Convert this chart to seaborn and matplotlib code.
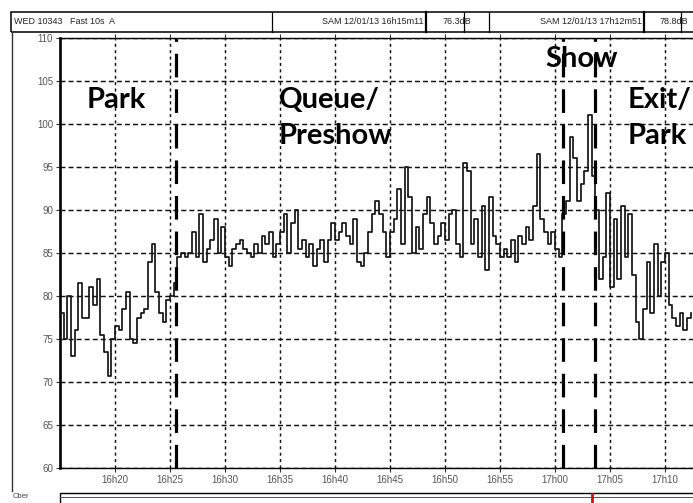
import numpy as np
import pandas as pd
import matplotlib
matplotlib.use("Agg")
import matplotlib.pyplot as plt
import seaborn as sns
from matplotlib.patches import Rectangle
from matplotlib.lines import Line2D

plt.rcParams['lines.scale_dashes'] = False

# ---- data -------------------------------------------------------------
step_seconds = 20  # one reading every 20 s, starting 16h15
levels_db = [
    78, 75, 80, 73, 76, 81.5, 77.5, 77.5, 81, 79, 82, 75.5, 73.5, 70.7, 75,
    76.5, 76, 78.5, 80.5, 75, 74.5, 77.5, 78, 78.5, 84, 86, 80.5, 78, 77,
    79.5, 80, 81.5, 84.5, 85, 84.5,
    85, 87.5, 84.5, 89.5, 84, 85.5, 86.5, 89, 85, 88, 84.5, 83.5, 85.5, 86,
    86.5, 85.5, 85, 84.5, 86, 85, 87, 86, 87.5, 84.5, 86, 87.5, 89.5, 85,
    88.5, 90, 85.5, 86.5, 84.5,
    86, 83.5, 85.5, 86.5, 84, 86.5, 88.5, 86.5, 87.5, 88.5, 87, 86, 89, 84,
    83.5, 85, 87.5, 89.5, 91, 89.5, 87.5, 84.5, 87.5, 89, 92.5, 86, 95,
    91.5, 85, 88, 85.5, 89.5, 91.5, 88.5, 86, 87,
    88.5, 86.5, 89.5, 90, 86, 84.5, 95.5, 94.5, 86, 89, 84.5, 90.5, 83,
    91.5, 87, 86, 84.5, 85.5, 84.5, 86.5, 84, 87, 86, 88, 86.5, 90.5, 96.5,
    89, 87.5, 86, 87.5, 85.5, 84.5, 89.5, 91, 98.5,
    96, 91, 93, 94.5, 101, 94, 90, 82, 84.5, 92, 81, 89, 82, 90.5, 84.5,
    89.5, 82.5, 77, 75, 78.5, 84, 78, 86, 80, 84, 85, 79, 77.5, 76.5, 78,
    76, 77.5, 78,
]
tick_minutes = [5, 10, 15, 20, 25, 30, 35, 40, 45, 50, 55]
tick_labels = ["16h20", "16h25", "16h30", "16h35", "16h40", "16h45",
               "16h50", "16h55", "17h00", "17h05", "17h10"]
y_ticks = [60, 65, 70, 75, 80, 85, 90, 95, 100, 105, 110]
phase_markers_min = [10.55, 45.7, 48.6]
phase_texts = ["Park", "Queue/\nPreshow", "Show", "Exit/\nPark"]
header_texts = ["WED 10343   Fast 10s  A", "SAM 12/01/13 16h15m11", "76.3dB",
                "SAM 12/01/13 17h12m51", "78.8dB"]

# ---- figure -----------------------------------------------------------
W, H = 693, 503
fig = plt.figure(figsize=(W / 100, H / 100), dpi=100)
fig.patch.set_facecolor("white")

def fx(x):
    return x / W

def fy(y):
    return 1 - y / H

ax = fig.add_axes([fx(60), fy(468), 1 - fx(60), (468 - 38) / H])

df = pd.DataFrame({"t": np.arange(len(levels_db)) * step_seconds / 60,
                   "dB": levels_db})
sns.lineplot(data=df, x="t", y="dB", ax=ax, drawstyle="steps-post",
             color="#151515", lw=1.25, zorder=4)

ax.set_xlim(0, 57.55)
ax.set_ylim(60, 110)
ax.set_xlabel("")
ax.set_ylabel("")
ax.set_xticks(tick_minutes)
ax.set_xticklabels(tick_labels)
ax.set_yticks(y_ticks)
ax.set_yticklabels([str(v) for v in y_ticks])

for lab in ax.get_xticklabels() + ax.get_yticklabels():
    lab.set_fontfamily("Liberation Sans")
    lab.set_fontsize(7)
    lab.set_color("#555555")
ax.tick_params(axis="both", length=3, width=0.8, color="#333333", pad=2)
ax.tick_params(axis="x", top=True, direction="out")
ax.tick_params(axis="y", direction="out")

# grid
ax.xaxis.grid(True, linestyle=(0, (2.2, 2.4)), color="#111111", lw=1.05, zorder=1)
ax.yaxis.grid(True, linestyle=(0, (3.6, 2.2)), color="#111111", lw=1.05, zorder=1)
ax.set_axisbelow(True)

ax.spines["right"].set_visible(False)
ax.spines["left"].set_linewidth(1.9)
ax.spines["left"].set_color("black")
ax.spines["bottom"].set_linewidth(1.0)
ax.spines["top"].set_linewidth(1.0)

# phase markers
for m in phase_markers_min:
    ax.axvline(m, color="black", lw=2.3, linestyle=(0, (17, 8.6)), zorder=5)

# phase labels
label_style = dict(family="Lato", weight="bold", size=21, color="black",
                   va="top", ha="left", linespacing=1.5)
fig.text(fx(87), fy(87), phase_texts[0], **label_style)
fig.text(fx(279), fy(87), phase_texts[1], **label_style)
fig.text(fx(545), fy(46), phase_texts[2], **label_style)
fig.text(fx(628), fy(87), phase_texts[3], **label_style)

# header box
hdr = dict(family="Liberation Sans", size=6.5, color="#222222", va="center")
fig.patches.append(Rectangle((fx(11), fy(32)), 1.0, (32 - 12) / H,
                             transform=fig.transFigure, fill=False,
                             edgecolor="black", lw=1.1))
for xd, lw in [(272, 0.9), (426, 1.6), (464, 0.9), (489, 0.9), (644, 1.6), (681, 0.9)]:
    fig.lines.append(Line2D([fx(xd), fx(xd)], [fy(32), fy(12)],
                            transform=fig.transFigure, color="black", lw=lw))
fig.text(fx(14), fy(21.5), header_texts[0], ha="left", **hdr)
fig.text(fx(424), fy(21.5), header_texts[1], ha="right", **hdr)
fig.text(fx(443), fy(21.5), header_texts[2], ha="left", **hdr)
fig.text(fx(642), fy(21.5), header_texts[3], ha="right", **hdr)
fig.text(fx(660), fy(21.5), header_texts[4], ha="left", **hdr)

# left frame line
fig.lines.append(Line2D([fx(12), fx(12)], [fy(32), fy(491)],
                        transform=fig.transFigure, color="#333333", lw=1.0))

# bottom strip
fig.patches.append(Rectangle((fx(60), fy(510)), 1.0, (510 - 493) / H,
                             transform=fig.transFigure, fill=False,
                             edgecolor="black", lw=1.0))
fig.lines.append(Line2D([fx(60), fx(693)], [fy(497), fy(497)],
                        transform=fig.transFigure, color="#555555", lw=0.7))
fig.lines.append(Line2D([fx(592), fx(592)], [fy(494), fy(503)],
                        transform=fig.transFigure, color="#d01010", lw=2.0))
fig.text(fx(13), fy(497), "Cber", family="Liberation Sans", size=5.5,
         color="#444444", ha="left", va="center")

fig.savefig("out.png", dpi=100)
